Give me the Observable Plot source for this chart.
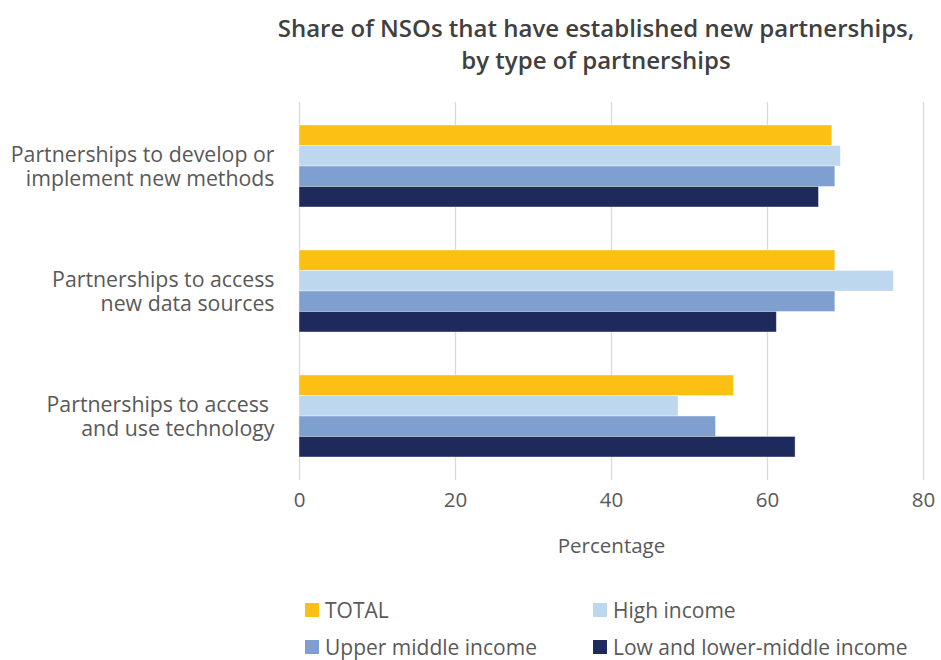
<!DOCTYPE html>
<html><head><meta charset="utf-8">
<script src="https://cdn.jsdelivr.net/npm/d3@7"></script>
<script src="https://cdn.jsdelivr.net/npm/@observablehq/plot@0.6"></script>
<style>
body{margin:0;background:#fff;font-family:"Open Sans",sans-serif;}
#wrap{position:relative;width:941px;height:660px;overflow:hidden}
#title{position:absolute;top:12px;left:246px;width:700px;text-align:center;font-weight:600;font-size:24px;line-height:32px;color:#404040}
#chart{position:absolute;top:0;left:0}
.leg{position:absolute;display:flex;align-items:center;font-size:21px;line-height:24px;height:24px;color:#595959;white-space:nowrap}
.sw{width:14px;height:14px;margin-right:6px;flex:none}
</style></head><body>
<div id="wrap">
<div id="chart"></div>
<div id="title">Share of NSOs that have established new partnerships,<br>by type of partnerships</div>
<div id="legend"></div>
</div>
<script>
// ---- data ----
const categories = [
  "Partnerships to develop or\nimplement new methods",
  "Partnerships to access\nnew data sources",
  "Partnerships to access \nand use technology"
];
const series = ["TOTAL", "High income", "Upper middle income", "Low and lower-middle income"];
const totalValues = [68.3, 68.7, 55.7];
const highValues = [69.4, 76.2, 48.6];
const upperValues = [68.7, 68.7, 53.4];
const lowValues = [66.6, 61.2, 63.6];
const seriesColors = ["#FCBF14", "#BDD7EE", "#7F9FD1", "#1F2A5C"];
const xTicks = [0, 20, 40, 60, 80];
const xLabel = "Percentage";

// ---- table ----
const valuesBySeries = [totalValues, highValues, upperValues, lowValues];
const rows = [];
series.forEach((s, si) => categories.forEach((c, ci) => rows.push({category: c, series: s, si, value: valuesBySeries[si][ci]})));

// ---- layout ----
const W = 941, H = 570, mTop = 102, mBottom = 90, mLeft = 299, mRight = 18;
const padInner = 0.347, padOuter = 0.18;
const step = (H - mTop - mBottom) / (categories.length - padInner + 2 * padOuter);
const bw = step * (1 - padInner);
const sub = bw / series.length;

const marks = [
  Plot.gridX(xTicks, {stroke: "#D9D9D9", strokeOpacity: 1, strokeWidth: 1.3}),
  ...series.map((s, si) => Plot.barX(rows.filter(d => d.series === s), {
    x: "value", y: "category", fill: seriesColors[si],
    insetTop: si * sub, insetBottom: (series.length - 1 - si) * sub,
    stroke: "#ffffff", strokeOpacity: 0.5, strokeWidth: 0.8
  })),
  Plot.axisX(xTicks, {tickSize: 0, tickPadding: 12, fontSize: 20.5, fill: "#595959", label: xLabel, labelAnchor: "center", labelOffset: 72, labelArrow: "none"}),
  Plot.axisY({tickSize: 0, tickPadding: 25, fontSize: 21.3, fill: "#595959", lineHeight: 1.12, label: null})
];

const chart = Plot.plot({
  width: W, height: H,
  marginTop: mTop, marginBottom: mBottom, marginLeft: mLeft, marginRight: mRight,
  style: {fontFamily: "'Open Sans', sans-serif", fontSize: "21.5px", color: "#595959", background: "transparent", overflow: "visible"},
  x: {domain: [0, 80], ticks: xTicks, label: xLabel},
  y: {domain: categories, paddingInner: padInner, paddingOuter: padOuter, label: null},
  marks
});
document.getElementById("chart").appendChild(chart);

// ---- legend ----
const legPos = [[305, 598], [593, 598], [305, 635], [593, 635]];
const leg = document.getElementById("legend");
series.forEach((s, i) => {
  const el = document.createElement("div");
  el.className = "leg";
  el.style.left = legPos[i][0] + "px";
  el.style.top = legPos[i][1] + "px";
  el.innerHTML = `<span class="sw" style="background:${seriesColors[i]}"></span><span>${s}</span>`;
  leg.appendChild(el);
});
</script>
</body></html>
